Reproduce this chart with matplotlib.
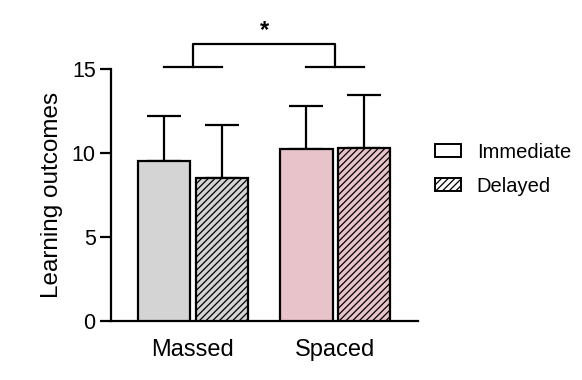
import matplotlib
matplotlib.use("Agg")
import matplotlib.pyplot as plt
from matplotlib.patches import Patch

# Data
groups = ["Massed", "Spaced"]
conditions = ["Immediate", "Delayed"]
means_immediate = [9.52, 10.22]
means_delayed = [8.51, 10.28]
sd_immediate = [2.68, 2.58]
sd_delayed = [3.16, 3.19]
group_colors = ["#d4d4d4", "#e8c3ca"]
sig_label = "*"


def make_plot():
    plt.rcParams["font.family"] = ["Liberation Sans", "DejaVu Sans"]
    plt.rcParams["hatch.linewidth"] = 0.9
    fig = plt.figure(figsize=(5.82, 3.80), dpi=100)
    ax = fig.add_axes([0.1907, 0.155, 0.527, 0.663])

    width = 0.9
    centers = [0.0, 2.46]
    for i, c in enumerate(centers):
        ax.bar(c, means_immediate[i], width, color=group_colors[i],
               edgecolor="black", linewidth=1.6, zorder=3)
        ax.bar(c + 1, means_delayed[i], width, color=group_colors[i],
               edgecolor="black", linewidth=1.6, hatch="/////", zorder=3)
        ax.errorbar(c, means_immediate[i], yerr=[[0], [sd_immediate[i]]],
                    fmt="none", ecolor="black", elinewidth=1.6, capsize=12,
                    capthick=1.6, zorder=2)
        ax.errorbar(c + 1, means_delayed[i], yerr=[[0], [sd_delayed[i]]],
                    fmt="none", ecolor="black", elinewidth=1.6, capsize=12,
                    capthick=1.6, zorder=2, clip_on=False)

    # significance bracket
    lw = 1.6
    low_y, high_y = 15.12, 16.5
    for c in centers:
        ax.plot([c, c + 1], [low_y, low_y], color="black", lw=lw, clip_on=False)
    mids = [c + 0.5 for c in centers]
    ax.plot([mids[0], mids[0], mids[1], mids[1]],
            [low_y, high_y, high_y, low_y], color="black", lw=lw, clip_on=False)
    ax.text((mids[0] + mids[1]) / 2, 16.62, sig_label, ha="center", va="bottom",
            fontsize=17, fontweight="bold")

    ax.set_xlim(-0.914, 4.38)
    ax.set_ylim(0, 15)
    ax.set_yticks([0, 5, 10, 15])
    ax.set_xticks(mids)
    ax.set_xticklabels(groups, fontsize=17)
    ax.tick_params(axis="x", length=0, pad=13)
    ax.tick_params(axis="y", length=8, width=1.6, labelsize=15.5, pad=3)
    ax.set_ylabel("Learning outcomes", fontsize=17.5, labelpad=6)
    for s in ["top", "right"]:
        ax.spines[s].set_visible(False)
    for s in ["left", "bottom"]:
        ax.spines[s].set_linewidth(1.6)

    handles = [Patch(facecolor="white", edgecolor="black", linewidth=1.4),
               Patch(facecolor="white", edgecolor="black", linewidth=1.4,
                     hatch="/////")]
    fig.legend(handles, conditions, loc="center left",
               bbox_to_anchor=(0.717, 0.555), frameon=False, fontsize=14.5,
               handlelength=1.25, handleheight=0.6, handletextpad=0.8,
               labelspacing=0.75)

    fig.savefig("out.png", dpi=100)


if __name__ == "__main__":
    make_plot()
